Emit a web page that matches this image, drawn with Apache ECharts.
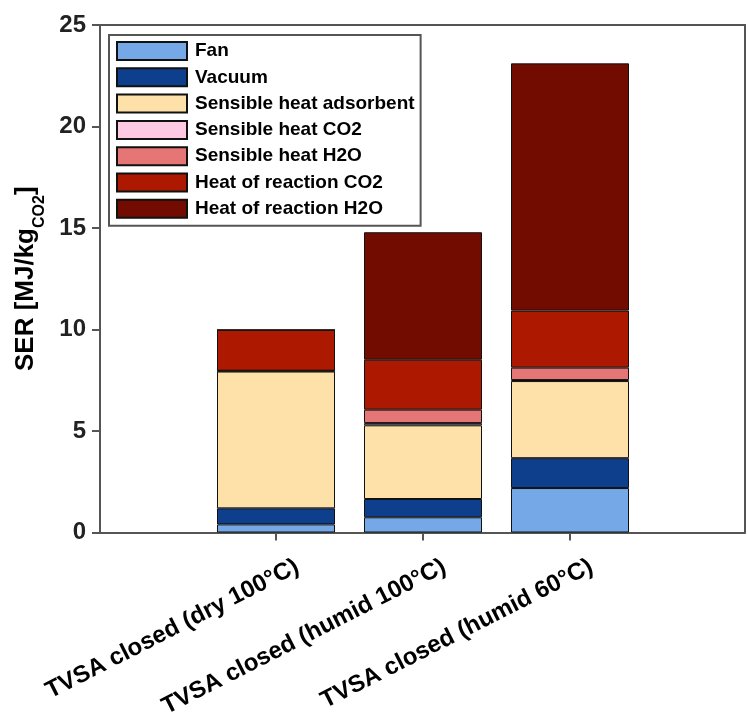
<!DOCTYPE html>
<html>
<head>
<meta charset="utf-8">
<script src="https://cdn.jsdelivr.net/npm/echarts@6/dist/echarts.min.js"></script>
<style>html,body{margin:0;padding:0;background:#fff;}#c{width:748px;height:722px;}</style>
</head>
<body>
<div id="c"></div>
<script>
var categories = ['TVSA closed (dry 100°C)', 'TVSA closed (humid 100°C)', 'TVSA closed (humid 60°C)'];
var seriesNames = ['Fan', 'Vacuum', 'Sensible heat adsorbent', 'Sensible heat CO2', 'Sensible heat H2O', 'Heat of reaction CO2', 'Heat of reaction H2O'];
var fan = [0.40, 0.75, 2.19];
var vacuum = [0.79, 0.90, 1.47];
var sensibleAdsorbent = [6.74, 3.63, 3.80];
var sensibleCO2 = [0.04, 0.11, 0.05];
var sensibleH2O = [0, 0.66, 0.61];
var reactionCO2 = [2.01, 2.46, 2.81];
var reactionH2O = [0, 6.28, 12.18];
var yTicks = [0, 5, 10, 15, 20, 25];

var values = [fan, vacuum, sensibleAdsorbent, sensibleCO2, sensibleH2O, reactionCO2, reactionH2O];
var colors = ['#74a8e6', '#0e3f8c', '#fee1a8', '#fdc9e3', '#e67575', '#ac1900', '#730c00'];
var FONT = '"Liberation Sans", Arial, Helvetica, sans-serif';
var AXC = '#555';

var series = seriesNames.map(function (n, i) {
  return {
    name: n,
    type: 'bar',
    stack: 'total',
    xAxisIndex: 2, yAxisIndex: 2,
    barWidth: 118,
    itemStyle: { color: colors[i], borderColor: '#111', borderWidth: 1 },
    emphasis: { disabled: true },
    data: values[i]
  };
});

var frameLine = { show: true, onZero: false, lineStyle: { color: AXC, width: 2 } };

var chart = echarts.init(document.getElementById('c'), null, { renderer: 'canvas' });
chart.setOption({
  animation: false,
  textStyle: { fontFamily: FONT },
  grid: [
    { left: 100, right: 3, top: 25, bottom: 189.5, containLabel: false, outerBoundsMode: 'none' },
    { left: 202.5, right: 104.5, top: 25, bottom: 189.5, containLabel: false, outerBoundsMode: 'none' }
  ],
  legend: {
    orient: 'vertical',
    left: 109, top: 35,
    padding: [6, 6, 7, 7],
    itemWidth: 70, itemHeight: 18, itemGap: 6.3,
    icon: 'rect',
    borderColor: AXC, borderWidth: 2,
    backgroundColor: '#fff',
    selectedMode: false,
    textStyle: { fontFamily: FONT, fontSize: 19, lineHeight: 18, fontWeight: 'bold', color: '#000', padding: [0, 0, 0, 3] },
    data: seriesNames
  },
  xAxis: [{
    gridIndex: 0, type: 'value', min: 0, max: 1, position: 'bottom',
    splitLine: { show: false }, axisLine: frameLine,
    axisTick: { show: false }, axisLabel: { show: false }
  }, {
    gridIndex: 0, type: 'value', min: 0, max: 1, position: 'top',
    splitLine: { show: false }, axisLine: frameLine,
    axisTick: { show: false }, axisLabel: { show: false }
  }, {
    gridIndex: 1, type: 'category', data: categories, position: 'bottom',
    boundaryGap: true,
    axisLine: { show: false, onZero: false },
    axisTick: { show: true, alignWithLabel: true, length: 8, lineStyle: { color: AXC, width: 2 } },
    axisLabel: {
      interval: 0, rotate: 27, margin: -9,
      verticalAlign: 'top', lineHeight: 26, padding: [34, 0, 0, 0],
      fontFamily: FONT, fontSize: 24, fontWeight: 'bold', color: '#000'
    }
  }],
  yAxis: [{
    gridIndex: 0, type: 'value', min: 0, max: 25, interval: 5, position: 'left',
    splitLine: { show: false }, axisLine: frameLine,
    axisTick: { show: true, length: 8, inside: false, lineStyle: { color: AXC, width: 2 } },
    axisLabel: { margin: 14, fontFamily: FONT, fontSize: 24, fontWeight: 'bold', color: '#222', customValues: yTicks },
    name: 'SER [MJ/kg{sub|CO2}]',
    nameLocation: 'middle', nameRotate: 90, nameGap: 59,
    nameTextStyle: {
      fontFamily: FONT, fontSize: 26, fontWeight: 'bold', color: '#000', lineHeight: 30,
      rich: {
        sub: { fontFamily: FONT, fontSize: 16, fontWeight: 'bold', color: '#000', lineHeight: 16, padding: [28, 0, 0, 0] }
      }
    }
  }, {
    gridIndex: 0, type: 'value', min: 0, max: 25, interval: 5, position: 'right',
    splitLine: { show: false }, axisLine: frameLine,
    axisTick: { show: false }, axisLabel: { show: false }
  }, {
    gridIndex: 1, type: 'value', min: 0, max: 25, interval: 5,
    show: false
  }],
  series: series
});
</script>
</body>
</html>
